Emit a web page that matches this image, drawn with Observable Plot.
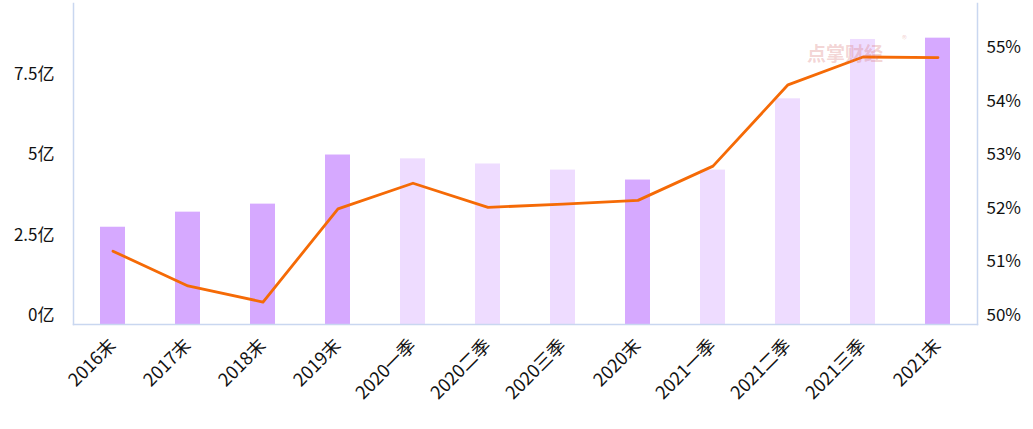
<!DOCTYPE html>
<html><head><meta charset="utf-8">
<script src="https://cdn.jsdelivr.net/npm/d3@7"></script>
<script src="https://cdn.jsdelivr.net/npm/@observablehq/plot@0.6"></script>
<style>
body{margin:0;background:#fff;}
#wrap{position:relative;width:1033px;height:429px;}
#wm{position:absolute;left:807px;top:41px;font:bold 19px "Noto Sans CJK SC";color:rgba(215,110,110,0.3);z-index:2;line-height:24px}
#wm sup{font-size:10px;font-weight:normal;position:absolute;left:95px;top:-14px}
#chart{position:absolute;left:0;top:0;z-index:1}
</style>
</head><body>
<div id="wrap"><div id="chart"></div><div id="wm">点掌财经<sup>®</sup></div></div>
<script>
const categories = ["2016末","2017末","2018末","2019末","2020一季","2020二季","2020三季","2020末","2021一季","2021二季","2021三季","2021末"];
const amounts = [3.03, 3.5, 3.75, 5.28, 5.16, 5.0, 4.81, 4.5, 4.81, 7.03, 8.88, 8.92]; // 亿
const ratios = [51.37, 50.72, 50.42, 52.16, 52.64, 52.19, 52.25, 52.32, 52.96, 54.48, 55.0, 54.99]; // %
const leftTicks = [0, 2.5, 5, 7.5];
const rightTicks = [50, 51, 52, 53, 54, 55];
const leftMax = 10, rightMin = 50, rightMax = 56;

const toLeft = p => (p - rightMin) / (rightMax - rightMin) * leftMax;
const data = categories.map((c, i) => ({
  cat: c,
  amount: amounts[i],
  ratio: ratios[i],
  kind: c.endsWith("末") ? "年末" : "季度"
}));

const font = '"Noto Sans CJK SC", "Noto Sans", sans-serif';
const chart = Plot.plot({
  width: 1033,
  height: 429,
  marginLeft: 73,
  marginRight: 56,
  marginTop: 3,
  marginBottom: 105,
  style: {fontFamily: font, fontSize: "17px", color: "#111", background: "transparent"},
  x: {domain: categories, paddingInner: 0.667, paddingOuter: 0.333, label: null},
  y: {domain: [0, leftMax], label: null},
  color: {domain: ["年末", "季度"], range: ["#d6a9ff", "#eedcff"]},
  marks: [
    Plot.barY(data, {x: "cat", y: "amount", fill: "kind"}),
    Plot.line(data, {x: "cat", y: d => toLeft(d.ratio), stroke: "#f56a06", strokeWidth: 2.8}),
    Plot.frame({anchor: "left", stroke: "#c9d7f0", strokeWidth: 1.5}),
    Plot.frame({anchor: "right", stroke: "#c9d7f0", strokeWidth: 1.5}),
    Plot.frame({anchor: "bottom", stroke: "#c9d7f0", strokeWidth: 1.5}),
    Plot.axisY(leftTicks, {anchor: "left", tickSize: 0, tickPadding: 19, dy: -9, tickFormat: d => d + "亿", label: null, fontSize: 17, style: {letterSpacing: "1px"}}),
    Plot.axisY(rightTicks.map(toLeft), {anchor: "right", tickSize: 0, tickPadding: 9, dy: -9, tickFormat: (d, i) => rightTicks[i] + "%", label: null, fontSize: 17}),
    Plot.axisX({tickSize: 0, tickRotate: -45, tickPadding: 18, label: null, fontSize: 18, style: {letterSpacing: "0.5px"}})
  ]
});
document.getElementById("chart").appendChild(chart);
</script>
</body></html>
